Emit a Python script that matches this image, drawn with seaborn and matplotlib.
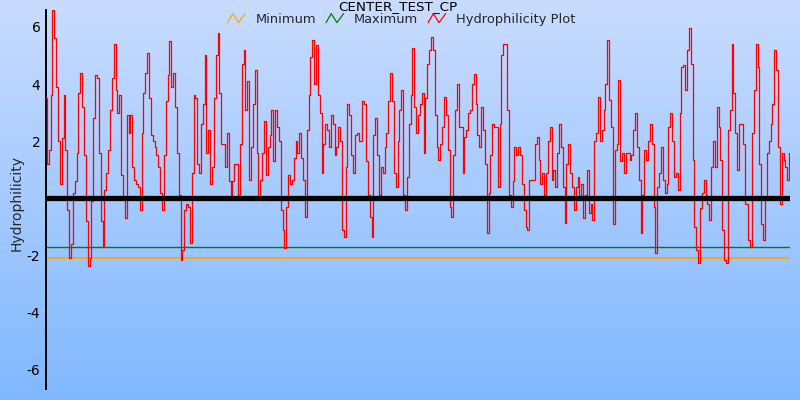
import numpy as np
import matplotlib
matplotlib.use("Agg")
import matplotlib.pyplot as plt
import seaborn as sns
import pandas as pd
from matplotlib.legend_handler import HandlerBase
from matplotlib.lines import Line2D

# ---------------- data ----------------
title_text = "CENTER_TEST_CP"
y_label = "Hydrophilicity"
legend_labels = ["Minimum", "Maximum", "Hydrophilicity Plot"]
ytick_values = [-6, -4, -2, 2, 4, 6]
minimum_level = -2.09
maximum_level = -1.70
zero_level = 0.0

hydro_values = [
    3.5, 1.2, 1.7, 3.6, 6.6, 5.6, 3.9, 2.0, 0.5, 2.1, 3.6, 1.7, -0.4, -2.1, -1.6, 0.2, 0.6, 1.6, 3.7, 4.4,
    3.2, 1.5, -0.8, -2.35, -2.1, -0.1, 2.8, 4.3, 4.2, 1.6, -0.8, -1.7, 0.3, 0.9, 1.7, 3.1, 4.2, 5.4, 3.8, 3.0,
    3.6, 0.8, 0.0, -0.7, 2.9, 2.3, 2.9, 1.1, 0.65, 0.5, 0.4, -0.4, 2.3, 3.7, 4.4, 5.1, 3.5, 2.2, 2.0, 1.8,
    1.5, 1.1, 0.2, -0.4, 1.5, 3.4,
    4.3, 5.5, 3.9, 4.4, 3.2, 1.6, 0.1, -2.15, -1.8, -0.4, -0.2, -0.3, -1.55, 0.9, 3.6, 3.5, 1.2, 0.9, 2.6, 3.3,
    5.0, 1.6, 2.4, 0.5, 1.1, 3.5, 5.0, 5.8, 3.7, 1.9, 1.9, 1.1, 2.3, 0.6, -0.05, 0.6, 1.2, 1.2, 0.1, 1.9,
    4.7, 5.2, 3.1, 4.1, 0.65, 1.8, 3.3, 4.5, 1.6, 0.0, 0.65, 1.6, 2.7, 0.8, 1.8, 2.2, 3.1, 1.3, 3.1, 2.5,
    2.0, -0.4, -1.1, -1.75, -0.3, 0.8, 0.5, 0.65, 1.4, 2.0,
    1.6, 2.3, 1.4, 0.65, -0.65, 2.4, 3.6, 4.95, 5.55, 4.0, 5.35, 3.6, 3.0, 0.9, 1.9, 2.6, 2.4, 1.8, 2.9, 2.6,
    1.5, 1.8, 2.5, 2.0, -1.1, -1.35, 1.1, 3.3, 2.9, 1.5, 0.9, 2.2, 2.3, 2.0, 2.0, 3.4, 3.3, 1.3, 0.1, -0.65,
    -1.35, 2.2, 2.8, 1.5, 0.1, 1.1, 0.9, 1.8, 2.3, 3.4, 4.4, 3.4, 0.9, 0.4, 2.0, 3.1, 3.8, 0.1, -0.4, 0.75,
    2.6, 3.6, 5.25, 3.2, 2.3, 2.9, 3.3, 3.7, 1.6,
    3.5, 4.7, 5.2, 5.66, 5.2, 2.9, 1.8, 1.35, 1.9, 2.5, 3.55, 2.9, 1.7, -0.3, -0.65, 1.5, 3.1, 4.0, 2.5, 2.5,
    0.9, 2.15, 2.4, 3.0, 3.1, 4.0, 4.35, 3.3, 2.2, 1.8, 3.2, 2.4, 1.2, -1.2, 0.2, 1.5, 2.6, 2.5, 2.5, 0.4,
    2.6, 5.0, 5.4, 5.4, 3.1, 0.1, -0.3, 0.6, 1.8, 1.5, 1.8, 1.5, 0.5, -0.4, -1.0, -1.1, 0.65, 0.65, 0.65, 1.9,
    2.15, 1.35, 0.5, 0.9, 0.1, 0.9,
    2.0, 2.5, 0.65, 1.0, 0.4, 1.6, 2.6, 1.8, 0.4, -0.85, 1.2, 1.9, 0.9, 0.4, -0.4, 0.4, 0.75, -0.05, 0.5, -0.7,
    0.1, 1.0, -0.5, -0.2, -0.75, 2.0, 2.3, 3.55, 2.0, 2.4, 3.1, 4.0, 5.55, 3.45, 2.5, -0.9, 1.7, 1.9, 4.15, 1.3,
    1.6, 0.9, 1.6, 1.6, 1.35, 1.5, 2.4, 3.0, 1.8, 0.65, -1.2, 0.1, 1.7, 1.35, 2.0, 2.6, 1.9, -0.3, -1.9, 0.4,
    0.9, 1.8, 0.65, 0.2, 0.5, 2.5,
    3.0, 2.0, 0.75, 0.9, 0.3, 3.0, 4.6, 4.65, 3.8, 5.2, 5.95, 4.7, 1.35, -1.0, -1.8, -2.27, -0.35, 0.2, 0.65, 0.1,
    -0.2, -0.75, 1.1, 2.0, 1.1, 3.2, 2.5, 1.35, -1.1, -2.15, -2.27, 2.4, 3.1, 5.4, 3.7, 2.3, 1.0, 2.6, 2.6, 1.9,
    -0.2, -0.2, -1.45, -1.7, 2.3, 3.8, 5.4, 4.6, 1.2, -0.9, -1.45, 0.0, 1.6, 2.0, 2.6, 3.3, 5.2, 4.5, 1.8, -0.2,
    1.6, 1.35, 1.1, 0.65, 1.6,
]

df = pd.DataFrame({"position": np.arange(len(hydro_values)), "value": hydro_values})

# ---------------- figure ----------------
sns.set_style("white")
plt.rcParams["font.family"] = ["DejaVu Sans"]

fig = plt.figure(figsize=(8, 4), dpi=100)

# gradient background
bg = fig.add_axes([0, 0, 1, 1], zorder=0)
top_c = np.array([201, 220, 254]) / 255
bot_c = np.array([128, 184, 255]) / 255
t = np.linspace(0, 1, 256)[:, None]
grad = top_c[None, :] * (1 - t) + bot_c[None, :] * t
bg.imshow(grad[:, None, :].repeat(2, axis=1), aspect="auto", extent=[0, 1, 0, 1])
bg.set_axis_off()

ax = fig.add_axes([46 / 800, 1 - 389 / 400, (790 - 46) / 800, (389 - 10) / 400], zorder=1)
ax.set_facecolor("none")

n = len(hydro_values)
ax.axhline(minimum_level, color="#FFA500", lw=1.3, zorder=2)
ax.axhline(maximum_level, color="#008000", lw=1.0, zorder=2)
ax.axhline(zero_level, color="black", lw=3.8, zorder=4)

sns.lineplot(data=df, x="position", y="value", ax=ax, color="red", lw=0.9,
             drawstyle="steps-mid", zorder=3, legend=False)

ax.set_xlim(0, n - 1)
ax.set_ylim(-6.67, 6.59)
ax.set_yticks(ytick_values)
ax.set_yticklabels([str(v) for v in ytick_values])
ax.set_xticks([])
ax.set_xlabel("")
ax.set_ylabel(y_label, fontsize=10)
ax.yaxis.set_label_coords(-0.03, 0.49)
for s in ["top", "right", "bottom"]:
    ax.spines[s].set_visible(False)
ax.spines["left"].set_color("black")
ax.spines["left"].set_linewidth(1.4)
ax.tick_params(axis="y", direction="inout", length=6, width=1, labelsize=10, colors="black", pad=1)


class ZigZagHandler(HandlerBase):
    def create_artists(self, legend, orig_handle, xdescent, ydescent, width, height, fontsize, trans):
        xs = np.array([0.0, 0.3, 0.62, 1.0]) * width - xdescent
        ys = np.array([0.05, 0.95, 0.05, 0.95]) * height * 1.1 - ydescent - 0.05 * height
        line = Line2D(xs, ys, color=orig_handle.get_color(), lw=0.9, transform=trans)
        return [line]


handles = [Line2D([], [], color="#FFA500"), Line2D([], [], color="#008000"), Line2D([], [], color="red")]
fig.legend(handles, legend_labels, loc="center", bbox_to_anchor=(0.502, 0.952), ncol=3, frameon=False,
           fontsize=9.4, handlelength=1.35, handletextpad=0.8, columnspacing=0.75,
           borderpad=0.1, handler_map={Line2D: ZigZagHandler()})

fig.text(0.4975, 0.999, title_text, ha="center", va="top", fontsize=9.7, color="black")

fig.savefig("out.png", dpi=100)
